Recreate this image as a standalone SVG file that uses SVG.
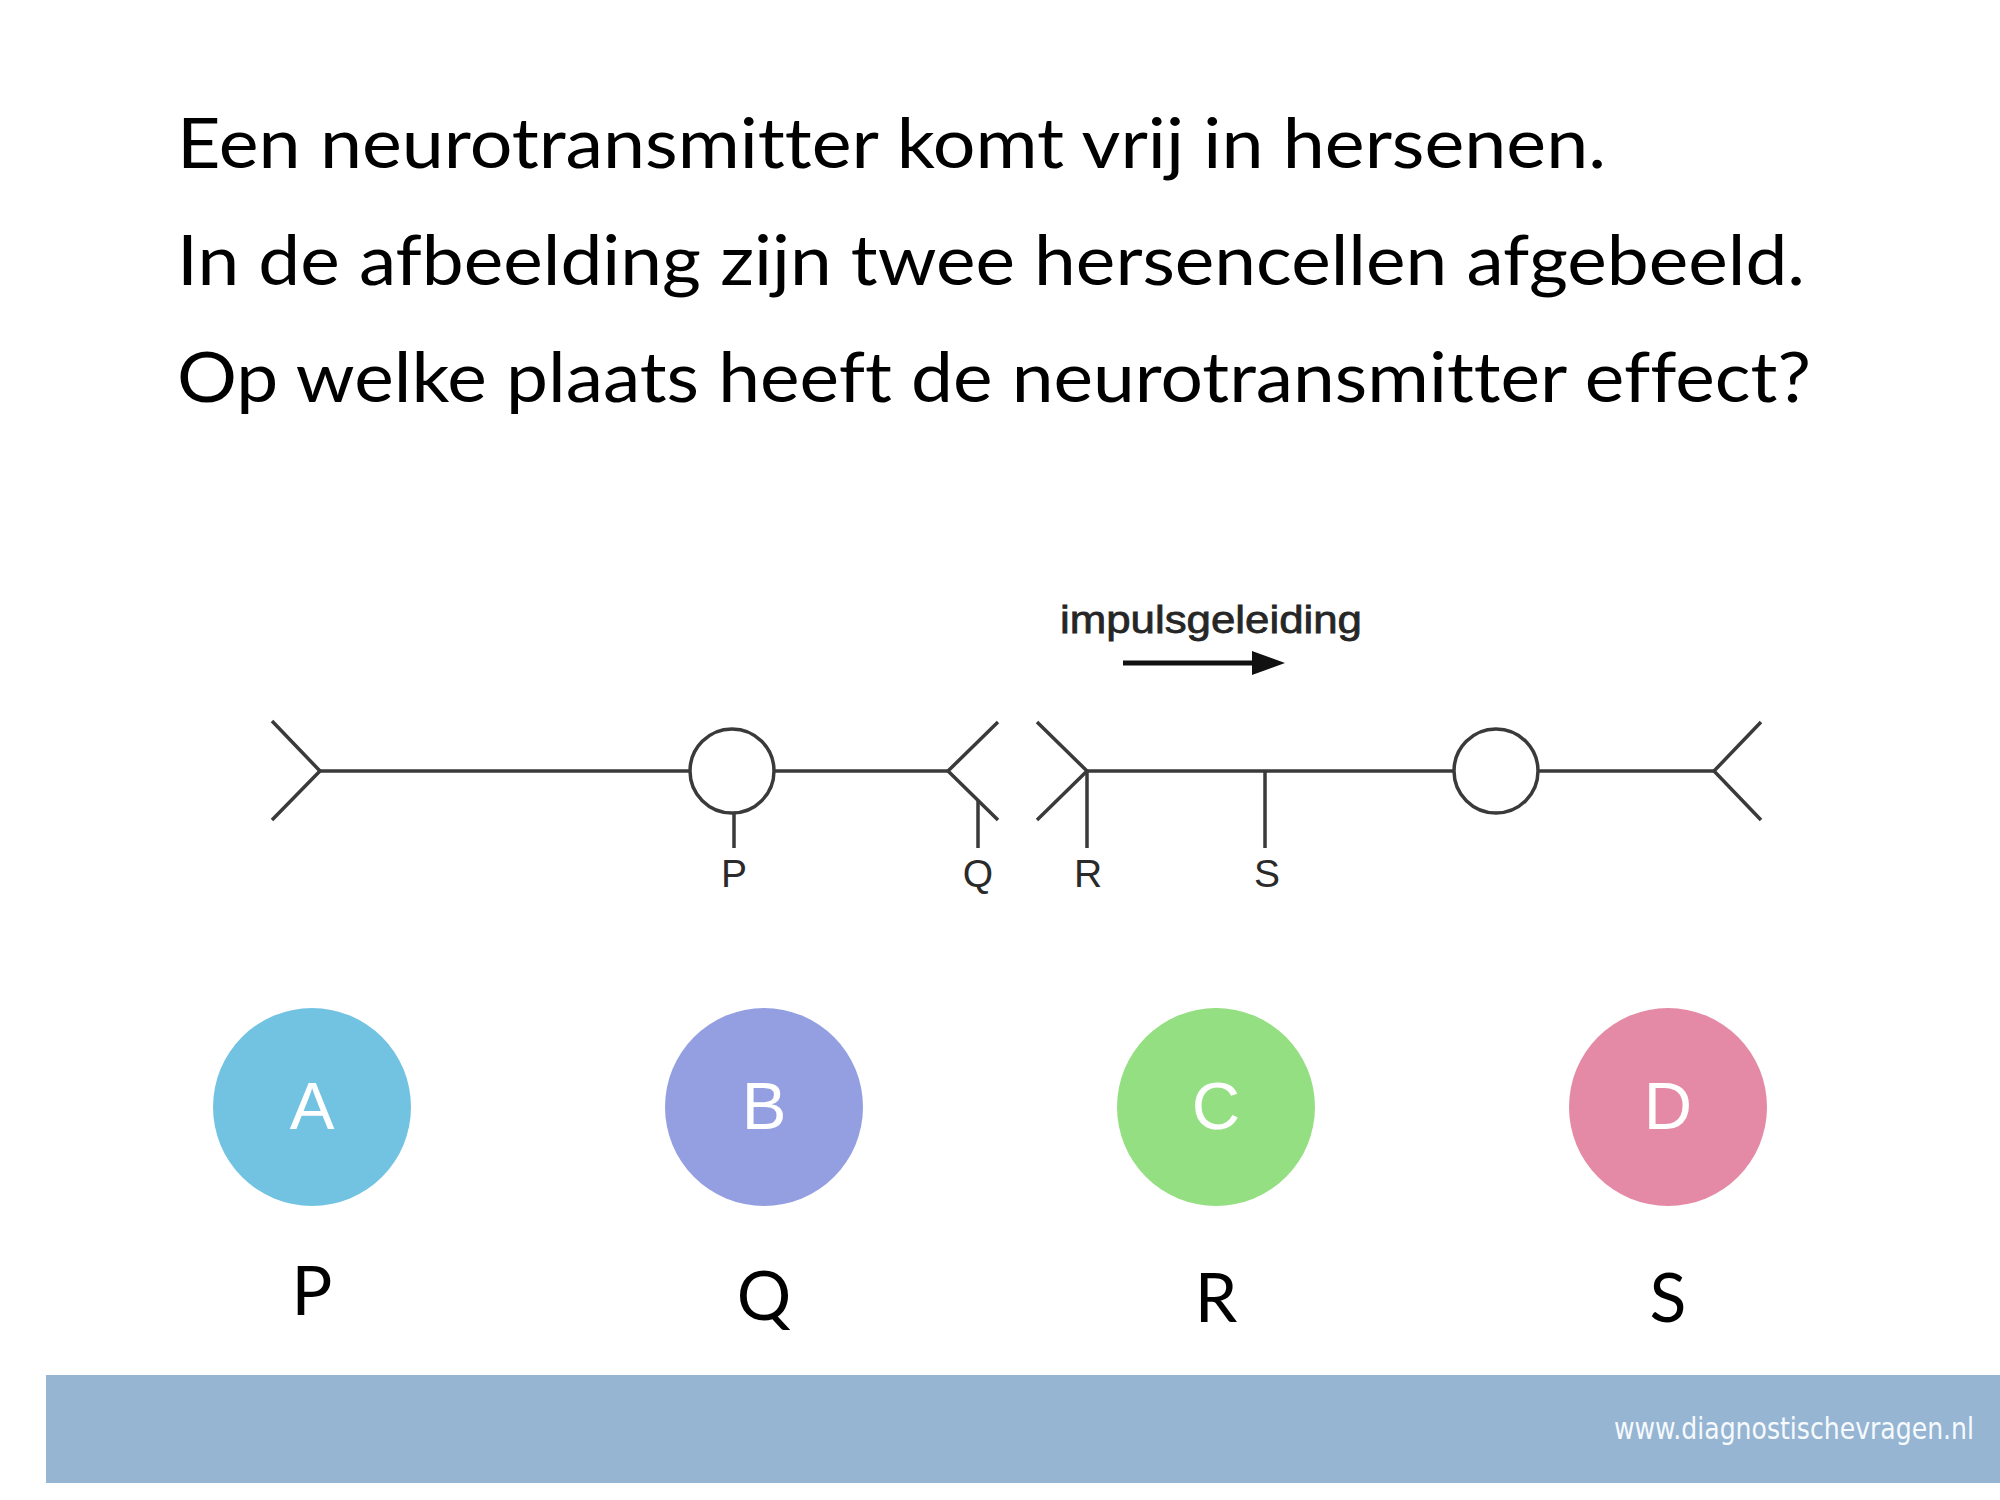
<svg xmlns="http://www.w3.org/2000/svg" width="2000" height="1500" viewBox="0 0 2000 1500">
<style>
.q{font-family:Lato,"Open Sans","Noto Sans",sans-serif;font-size:70px;fill:#000;font-variant-ligatures:none}
.ln{stroke:#3a3a3a;stroke-width:3.5;fill:none;stroke-linecap:butt}
.lbl{font-family:"Liberation Sans",Arial,sans-serif;font-size:39px;fill:#2a2a2a;text-anchor:middle}
.opt{font-family:"Liberation Sans",Arial,sans-serif;font-size:67px;fill:#fff;text-anchor:middle}
.ans{font-family:Lato,"Open Sans","Noto Sans",sans-serif;font-size:68px;fill:#000;text-anchor:middle}
</style>
<rect width="2000" height="1500" fill="#fff"/>
<g id="question">
<text class="q" x="177" y="168" textLength="1429" lengthAdjust="spacingAndGlyphs">Een neurotransmitter komt vrij in hersenen.</text>
<text class="q" x="177" y="285" textLength="1628" lengthAdjust="spacingAndGlyphs">In de afbeelding zijn twee hersencellen afgebeeld.</text>
<text class="q" x="177" y="402" textLength="1634" lengthAdjust="spacingAndGlyphs">Op welke plaats heeft de neurotransmitter effect?</text>
</g>
<g id="neuron1">
<polyline class="ln" points="272,721 320,771 272,820"/>
<line class="ln" x1="320" y1="771" x2="691" y2="771"/>
<circle class="ln" cx="732" cy="771" r="42"/>
<line class="ln" x1="774" y1="771" x2="948" y2="771"/>
<polyline class="ln" points="998,722 948,771 998,820"/>
</g>
<g id="neuron2">
<polyline class="ln" points="1037,722 1087,771 1037,820"/>
<line class="ln" x1="1087" y1="771" x2="1454" y2="771"/>
<circle class="ln" cx="1496" cy="771" r="42"/>
<line class="ln" x1="1538" y1="771" x2="1714" y2="771"/>
<polyline class="ln" points="1761,722 1714,771 1761,820"/>
</g>
<g id="connectors">
<line class="ln" x1="734" y1="813" x2="734" y2="848"/>
<line class="ln" x1="978" y1="801" x2="978" y2="848"/>
<line class="ln" x1="1087" y1="771" x2="1087" y2="848"/>
<line class="ln" x1="1265" y1="771" x2="1265" y2="848"/>
<line x1="1123" y1="663" x2="1262" y2="663" stroke="#111" stroke-width="5"/>
<polygon points="1252,651 1285,663 1252,675" fill="#111"/>
</g>
<g id="labels">
<text class="lbl" x="734" y="887">P</text>
<text class="lbl" x="978" y="887">Q</text>
<text class="lbl" x="1088" y="887">R</text>
<text class="lbl" x="1267" y="887">S</text>
<text x="1060" y="633" font-family="Liberation Sans,Arial,sans-serif" font-size="39" fill="#262626" stroke="#262626" stroke-width="0.8" textLength="302" lengthAdjust="spacingAndGlyphs">impulsgeleiding</text>
</g>
<g id="optA">
<circle cx="312" cy="1107" r="99" fill="#72C3E2"/>
<text class="opt" x="312" y="1129">A</text>
<text class="ans" x="312" y="1315">P</text>
</g>
<g id="optB">
<circle cx="764" cy="1107" r="99" fill="#939FE1"/>
<text class="opt" x="764" y="1129">B</text>
<text class="ans" x="764" y="1320">Q</text>
</g>
<g id="optC">
<circle cx="1216" cy="1107" r="99" fill="#95DF83"/>
<text class="opt" x="1216" y="1129">C</text>
<text class="ans" x="1216" y="1322">R</text>
</g>
<g id="optD">
<circle cx="1668" cy="1107" r="99" fill="#E48AA6"/>
<text class="opt" x="1668" y="1129">D</text>
<text class="ans" x="1668" y="1322">S</text>
</g>
<g id="footer">
<rect x="46" y="1375" width="1954" height="108" fill="#95B5D3"/>
<text x="1614" y="1439" font-family="DejaVu Sans,Verdana,sans-serif" font-size="31" fill="#F7FAFD" textLength="360" lengthAdjust="spacingAndGlyphs">www.diagnostischevragen.nl</text>
</g>
</svg>
